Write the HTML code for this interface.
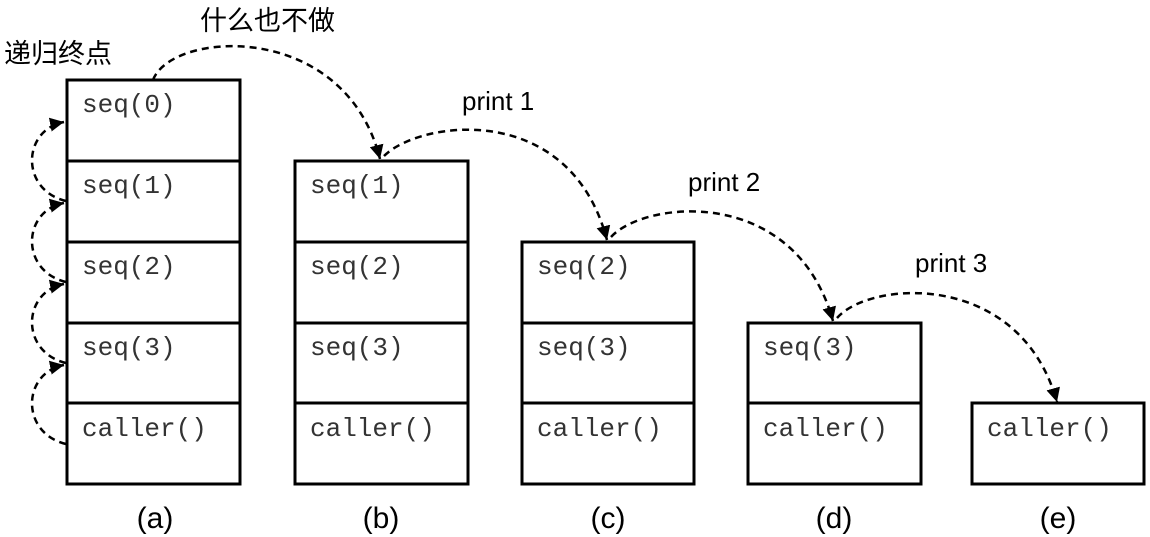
<!DOCTYPE html>
<html><head><meta charset="utf-8"><style>
html,body{margin:0;padding:0;background:#fff;}
svg{display:block;}
.m{font-family:"Liberation Mono",monospace;font-size:26px;fill:#333;}
.l{font-family:"Liberation Sans","Noto Sans CJK SC",sans-serif;fill:#000;}
</style></head><body>
<svg width="1150" height="537" viewBox="0 0 1150 537" xmlns="http://www.w3.org/2000/svg">
<defs><marker id="ah" markerWidth="14" markerHeight="14" refX="12" refY="6" orient="auto" markerUnits="userSpaceOnUse" viewBox="0 0 12 12"><path d="M0,0 L12,6 L0,12 z" fill="#000"/></marker></defs>
<g fill="none" stroke="#000" stroke-width="3">
<rect x="67" y="80" width="173" height="404"/>
<line x1="67" y1="161" x2="240" y2="161"/><line x1="67" y1="242" x2="240" y2="242"/><line x1="67" y1="323" x2="240" y2="323"/><line x1="67" y1="403" x2="240" y2="403"/>
<rect x="295" y="161" width="173" height="323"/>
<line x1="295" y1="242" x2="468" y2="242"/><line x1="295" y1="323" x2="468" y2="323"/><line x1="295" y1="403" x2="468" y2="403"/>
<rect x="522" y="242" width="172" height="242"/>
<line x1="522" y1="323" x2="694" y2="323"/><line x1="522" y1="403" x2="694" y2="403"/>
<rect x="748" y="323" width="173" height="161"/>
<line x1="748" y1="403" x2="921" y2="403"/>
<rect x="972" y="403" width="172" height="81"/>
</g>
<g fill="none" stroke="#000" stroke-width="2.5" stroke-dasharray="7,5" marker-end="url(#ah)">
<path d="M66,201 C20,190 22,130 64,122"/>
<path d="M66,282 C20,271 22,211 64,203"/>
<path d="M66,363 C20,352 22,292 64,284"/>
<path d="M66,444 C20,433 22,373 64,365"/>
<path d="M153,80 C172,30 345,20 380,159"/>
<path d="M384,156 C420,120 570,100 607,240"/>
<path d="M611,237 C645,200 795,185 833,321"/>
<path d="M837,318 C870,280 1020,270 1057,402"/>
</g>
<g class="m">
<text x="82" y="112">seq(0)</text><text x="82" y="193">seq(1)</text><text x="82" y="274">seq(2)</text><text x="82" y="355">seq(3)</text><text x="82" y="436">caller()</text>
<text x="310" y="193">seq(1)</text><text x="310" y="274">seq(2)</text><text x="310" y="355">seq(3)</text><text x="310" y="436">caller()</text>
<text x="537" y="274">seq(2)</text><text x="537" y="355">seq(3)</text><text x="537" y="436">caller()</text>
<text x="763" y="355">seq(3)</text><text x="763" y="436">caller()</text>
<text x="987" y="436">caller()</text>
</g>
<g class="l" font-size="26">
<text x="200" y="30" font-size="27">什么也不做</text>
<text x="4" y="63" font-size="27">递归终点</text>
<text x="462" y="110">print 1</text>
<text x="688" y="191">print 2</text>
<text x="915" y="272">print 3</text>
</g>
<g class="l" font-size="30" text-anchor="middle">
<text x="155" y="528">(a)</text><text x="381" y="528">(b)</text><text x="608" y="528">(c)</text><text x="834" y="528">(d)</text><text x="1058" y="528">(e)</text>
</g>
</svg>
</body></html>
